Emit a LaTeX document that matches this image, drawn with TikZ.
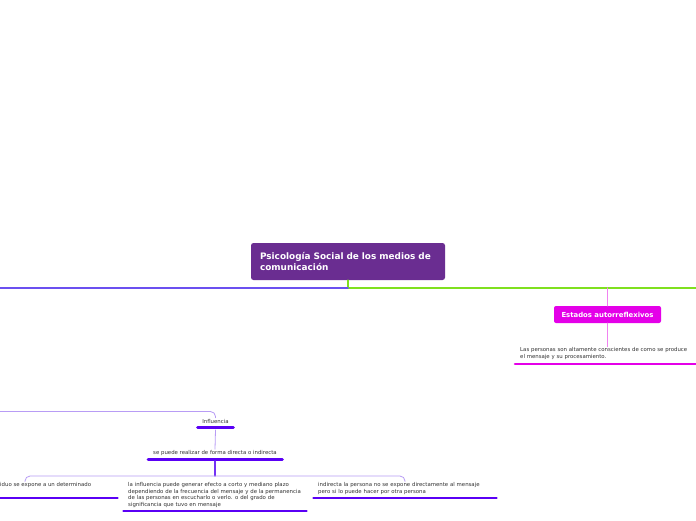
\documentclass[tikz,border=0pt]{standalone}
\usepackage{fontspec}
\setmainfont{DejaVu Sans}
\usetikzlibrary{calc}
\definecolor{rootpurple}{RGB}{106,45,145}
\definecolor{leftblue}{RGB}{107,80,240}
\definecolor{rightgreen}{RGB}{127,224,31}
\definecolor{estmag}{RGB}{228,0,232}
\definecolor{lightmag}{RGB}{240,130,240}
\definecolor{ulviolet}{RGB}{90,0,245}
\definecolor{midviolet}{RGB}{115,50,245}
\definecolor{lavline}{RGB}{184,156,245}
\begin{document}
\begin{tikzpicture}[x=1pt, y=-1pt, line cap=round,
    rootbox/.style={fill=rootpurple, rounded corners=2.5pt, text=white, font=\fontsize{8.9}{11}\selectfont\bfseries,
      minimum width=194pt, minimum height=37pt, align=left, text width=176pt, inner xsep=9pt},
    estbox/.style={fill=estmag, rounded corners=2pt, text=white, font=\fontsize{6.9}{7}\selectfont\bfseries,
      minimum width=107pt, minimum height=17pt},
    txt/.style={font=\fontsize{5.4}{6.5}\selectfont, text=black!80, align=left, inner xsep=5pt, inner ysep=1pt, anchor=north west},
    lbl/.style={font=\fontsize{5.4}{6}\selectfont, text=black!80, inner sep=1pt},
    uline/.style={draw=ulviolet, line width=2.6pt},
    thin/.style={draw=lavline, line width=0.8pt}]
  \useasboundingbox[fill=white] (0,0) rectangle (696,520);
  % main topic
  \node[rootbox] (root) at (348,261.5) {Psicología Social de los medios de\\comunicación};
  \coordinate (hubL) at (0,288);
  \coordinate (hubR) at (696,288);
  \draw[rightgreen, line width=1.6pt] (root.south) |- (hubR);
  \draw[leftblue, line width=1.8pt] (root.south |- hubL) -- (hubL);
  % right branch
  \node[estbox] (est) at (607.5,314.5) {Estados autorreflexivos};
  \draw[lightmag, line width=1.4pt] (est.north |- hubR) -- (est.north);
  \node[txt, text width=176pt] (estdesc) at (515,346.5) {Las personas son altamente conscientes de como se produce\\el mensaje y su procesamiento.};
  \draw[lightmag, line width=1.1pt] (est.south) -- (est.south |- estdesc.north);
  \draw[estmag, line width=2.6pt] (515,364) -- (696,364);
  % left branch
  \coordinate (lft) at (0,411.5);
  \node[lbl] (infl) at (215.5,421) {Influencia};
  \draw[uline] (197.5,427.5) -- (233.5,427.5);
  \draw[thin, rounded corners=5pt] (lft) -| (infl.north);
  \node[lbl] (forma) at (215,453) {se puede realizar de forma directa o indirecta};
  \draw[uline] (148,459.5) -- (282.5,459.5);
  \draw[thin] (infl.south |- 430,430) -- (forma.north);
  % children of the second node
  \coordinate (hubB) at (215,476);
  \draw[midviolet, line width=1.3pt] (forma.south |- 0,461) -- (hubB);
  \node[txt] (kid1) at (-5,481.5) {iduo se expone a un determinado};
  \coordinate (kid1top) at (25,481.5);
  \node[txt, text width=176pt] (kid2) at (123,481.5) {la influencia puede generar efecto a corto y mediano plazo\\dependiendo de la frecuencia del mensaje y de la permanencia\\de las personas en escucharlo o verlo. o del grado de\\significancia que tuvo en mensaje};
  \node[txt, text width=176pt] (kid3) at (313,481.5) {indirecta la persona no se expone directamente al mensaje\\pero si lo puede hacer por otra persona};
  \draw[thin, rounded corners=5pt] (kid1top) |- (hubB) -| ($(kid3.north west)!0.5!(kid3.north west -| 497,0)$);
  \draw[uline] (0,498) -- (117.5,498);
  \draw[uline] (123.5,511) -- (306.5,511);
  \draw[uline] (313.5,498) -- (496.5,498);
\end{tikzpicture}
\end{document}
